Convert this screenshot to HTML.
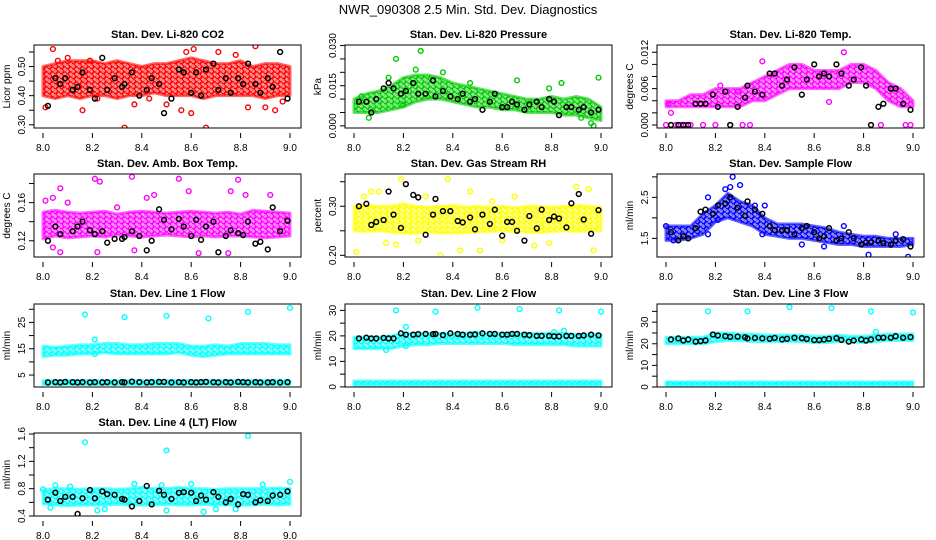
<!DOCTYPE html>
<html><head><meta charset="utf-8"><style>
html,body{margin:0;padding:0;background:#fff;}
svg{display:block;font-family:"Liberation Sans",Arial,sans-serif;}
</style></head><body>
<svg id="root" width="936" height="540" viewBox="0 0 936 540" xmlns="http://www.w3.org/2000/svg">
<rect x="0" y="0" width="936" height="540" fill="#fff"/>
<text x="468" y="14" text-anchor="middle" font-size="13">NWR_090308  2.5 Min. Std. Dev. Diagnostics</text>
</svg>
<script>
// shared time arrays
const tBand = [8.00,8.05,8.10,8.15,8.20,8.25,8.30,8.35,8.40,8.45,8.50,8.55,8.60,8.65,8.70,8.75,8.80,8.85,8.90,8.95,9.00];
const tBlack = [8.02,8.05,8.07,8.09,8.12,8.14,8.16,8.19,8.21,8.24,8.26,8.29,8.32,8.33,8.36,8.39,8.42,8.44,8.47,8.49,8.52,8.55,8.57,8.60,8.62,8.64,8.66,8.69,8.71,8.74,8.76,8.79,8.81,8.83,8.86,8.88,8.91,8.93,8.96,8.99];
const xTicks = [8.0,8.2,8.4,8.6,8.8,9.0];

// P1 CO2
const co2Lo = [0.40,0.39,0.40,0.39,0.40,0.40,0.39,0.40,0.40,0.41,0.40,0.40,0.40,0.39,0.40,0.40,0.40,0.40,0.39,0.40,0.40];
const co2Hi = [0.50,0.51,0.52,0.52,0.52,0.51,0.52,0.51,0.50,0.51,0.51,0.52,0.53,0.52,0.51,0.51,0.52,0.50,0.51,0.51,0.50];
const co2OutT = [8.01,8.04,8.06,8.10,8.16,8.19,8.22,8.33,8.37,8.43,8.56,8.58,8.61,8.66,8.71,8.78,8.83,8.86,8.90,8.94,8.97,8.60,8.50];
const co2OutV = [0.36,0.56,0.52,0.53,0.35,0.52,0.39,0.29,0.37,0.39,0.35,0.55,0.56,0.29,0.55,0.54,0.36,0.57,0.36,0.35,0.38,0.34,0.37];
const co2Black = [0.365,0.46,0.44,0.46,0.42,0.43,0.48,0.42,0.39,0.53,0.42,0.46,0.43,0.44,0.48,0.40,0.42,0.46,0.44,0.34,0.39,0.49,0.48,0.41,0.48,0.40,0.49,0.51,0.42,0.46,0.41,0.46,0.44,0.51,0.44,0.41,0.46,0.43,0.55,0.39];

// P2 Pressure
const presLo = [0.005,0.005,0.005,0.006,0.007,0.009,0.010,0.010,0.009,0.008,0.007,0.007,0.006,0.006,0.005,0.005,0.005,0.004,0.004,0.003,0.002];
const presHi = [0.010,0.012,0.013,0.015,0.018,0.019,0.019,0.018,0.016,0.015,0.014,0.013,0.012,0.011,0.010,0.010,0.011,0.010,0.011,0.010,0.007];
const presOutT = [8.17,8.27,8.36,8.14,8.25,8.47,8.66,8.79,8.84,8.99,8.97,8.96,8.92,8.06,8.20,8.03];
const presOutV = [0.025,0.028,0.020,0.018,0.021,0.016,0.017,0.014,0.016,0.018,0.000,0.001,0.003,0.003,0.008,0.011];
const presBlack = [0.009,0.009,0.005,0.010,0.014,0.016,0.014,0.012,0.013,0.016,0.012,0.012,0.017,0.011,0.013,0.011,0.010,0.012,0.009,0.010,0.006,0.009,0.012,0.007,0.007,0.009,0.008,0.006,0.008,0.009,0.007,0.010,0.009,0.004,0.007,0.007,0.006,0.007,0.005,0.006];

// P3 Li-820 Temp
const tempLo = [0.003,0.003,0.003,0.003,0.003,0.003,0.003,0.004,0.004,0.005,0.006,0.006,0.006,0.006,0.006,0.007,0.007,0.006,0.004,0.003,0.003];
const tempHi = [0.004,0.004,0.005,0.005,0.006,0.006,0.006,0.007,0.008,0.009,0.010,0.010,0.009,0.009,0.009,0.010,0.010,0.009,0.007,0.006,0.004];
const tempOutT = [8.00,8.02,8.04,8.06,8.08,8.10,8.15,8.20,8.26,8.31,8.34,8.87,8.97,8.99,8.22,8.29,8.66,8.72,8.39,8.01,8.02];
const tempOutV = [0,0,0,0,0,0,0,0,0,0,0,0,0,0,0.0065,0.0055,0.0038,0.012,0.0105,0.0035,0.002];
const tempBlack = [0.000,0.000,0.000,0.000,0.0035,0.0035,0.0035,0.0050,0.003,0.0055,0.000,0.003,0.0045,0.0065,0.0055,0.005,0.0085,0.0085,0.0065,0.0075,0.0095,0.005,0.0075,0.010,0.008,0.0085,0.008,0.010,0.0085,0.0065,0.0075,0.0095,0.0065,0.000,0.003,0.0035,0.0060,0.006,0.0035,0.0025];

// P4 Amb Box Temp
const ambLo = [0.122,0.125,0.123,0.124,0.125,0.124,0.126,0.125,0.124,0.125,0.126,0.125,0.124,0.125,0.124,0.125,0.125,0.124,0.123,0.124,0.125];
const ambHi = [0.150,0.152,0.150,0.149,0.150,0.151,0.148,0.150,0.151,0.150,0.149,0.150,0.151,0.150,0.149,0.150,0.148,0.152,0.151,0.150,0.149];
const ambOutT = [8.04,8.07,8.10,8.21,8.23,8.36,8.42,8.55,8.59,8.76,8.79,8.82,8.92,8.22,8.07,8.45,8.63,8.75,8.04,8.37,8.01,8.30];
const ambOutV = [0.165,0.175,0.160,0.185,0.182,0.187,0.165,0.185,0.172,0.172,0.184,0.168,0.168,0.108,0.108,0.168,0.107,0.107,0.113,0.110,0.162,0.155];
const ambBlack = [0.12,0.135,0.127,0.10,0.13,0.135,0.140,0.131,0.127,0.130,0.118,0.122,0.122,0.124,0.13,0.125,0.11,0.12,0.153,0.142,0.132,0.143,0.135,0.125,0.142,0.121,0.135,0.140,0.108,0.125,0.131,0.128,0.126,0.140,0.117,0.119,0.111,0.155,0.13,0.141];

// P5 Gas Stream RH
const rhLo = [0.250,0.248,0.250,0.247,0.245,0.245,0.248,0.245,0.245,0.246,0.247,0.248,0.250,0.248,0.247,0.246,0.248,0.250,0.248,0.250,0.250];
const rhHi = [0.300,0.302,0.300,0.300,0.305,0.300,0.298,0.300,0.302,0.298,0.300,0.298,0.300,0.297,0.300,0.300,0.298,0.300,0.302,0.300,0.298];
const rhOutT = [8.01,8.04,8.07,8.19,8.26,8.35,8.38,8.43,8.51,8.65,8.90,8.95,8.97,8.79,8.13,8.17,8.60,8.47,8.29,8.73,8.10,8.56];
const rhOutV = [0.207,0.32,0.33,0.355,0.23,0.20,0.355,0.21,0.21,0.32,0.34,0.335,0.21,0.225,0.225,0.222,0.23,0.33,0.32,0.22,0.33,0.31];
const rhBlack = [0.30,0.305,0.262,0.268,0.272,0.33,0.283,0.256,0.345,0.323,0.318,0.242,0.283,0.315,0.29,0.29,0.270,0.267,0.277,0.253,0.283,0.264,0.293,0.24,0.268,0.268,0.25,0.23,0.28,0.255,0.293,0.272,0.279,0.275,0.257,0.306,0.325,0.273,0.244,0.292];

// P6 Sample Flow
const sfLo = [1.45,1.45,1.50,1.60,1.90,2.00,1.90,1.80,1.60,1.55,1.50,1.50,1.45,1.40,1.35,1.35,1.30,1.30,1.30,1.30,1.35];
const sfHi = [1.80,1.80,1.80,2.10,2.30,2.60,2.40,2.30,2.00,1.85,1.85,1.85,1.80,1.75,1.65,1.60,1.55,1.55,1.50,1.50,1.50];
const sfOutT = [8.00,8.17,8.27,8.24,8.30,8.36,8.40,8.39,8.17,8.72,8.82,8.98,8.93,8.64,8.03,8.55,8.26,8.21];
const sfOutV = [1.80,2.50,3.00,2.70,2.80,2.30,2.30,1.60,1.60,1.80,1.10,1.05,1.60,1.30,1.45,1.35,2.75,1.95];
const sfBlack = [1.65,1.45,1.55,1.5,1.75,2.15,2.2,2.1,2.3,2.35,2.5,2.25,2.05,2.4,2.2,2.1,1.8,1.7,1.7,1.7,1.6,1.75,1.8,1.65,1.5,1.55,1.75,1.45,1.5,1.65,1.5,1.35,1.4,1.4,1.45,1.38,1.35,1.45,1.48,1.3];

// P7 Line 1 Flow
const l1Lo = [12,12.5,12.5,13,13,13.5,13,13,13,13,13,13.5,12.5,12,12.5,13,13,13,13,13,13];
const l1Hi = [16,15.5,16,16.5,16.5,17,17,16.5,16.5,17,17,17,16,16,16.5,16,17,17,17,16.5,16.5];
const l1LowLo = [1.4,1.4,1.4,1.4,1.4,1.4,1.4,1.4,1.4,1.4,1.4,1.4,1.4,1.4,1.4,1.4,1.4,1.4,1.4,1.4,1.4];
const l1LowHi = [2.9,2.9,2.9,2.9,2.9,2.9,2.9,2.9,2.9,2.9,2.9,2.9,2.9,2.9,2.9,2.9,2.9,2.9,2.9,2.9,2.9];
const l1OutT = [8.17,8.33,8.50,8.67,8.83,9.00,8.21,8.21];
const l1OutV = [28,27,27.5,26.5,29,30.5,18.5,13];
const l1Black = [2.2,2.3,2.2,2.4,2.3,2.2,2.3,2.2,2.3,2.2,2.3,2.2,2.3,2.2,2.5,2.3,2.2,2.3,2.4,2.4,2.2,2.3,2.2,2.3,2.2,2.3,2.4,2.3,2.2,2.3,2.2,2.4,2.3,2.2,2.3,2.2,2.2,2.3,2.2,2.3];

// P8 Line 2 Flow
const l2Lo = [15,15,15,15,16,16.5,16.5,17,17,17,17,17,17,16.5,16.5,16.5,16.5,16.5,16,16,16];
const l2Hi = [19.5,19.5,19.5,20,21,21,21,21,21,21,21.5,21,21,21,21,21,21,21,20.5,20.5,20.5];
const l2LowLo = [0.6,0.6,0.6,0.6,0.6,0.6,0.6,0.6,0.6,0.6,0.6,0.6,0.6,0.6,0.6,0.6,0.6,0.6,0.6,0.6,0.6];
const l2LowHi = [2.3,2.3,2.3,2.3,2.3,2.3,2.3,2.3,2.3,2.3,2.3,2.3,2.3,2.3,2.3,2.3,2.3,2.3,2.3,2.3,2.3];
const l2OutT = [8.17,8.33,8.50,8.67,8.83,9.00,8.21,8.81,8.85,8.21,8.13];
const l2OutV = [30,29.5,31,30.5,30,29.5,23.5,21.5,22,16,14.5];
const l2Black = [19,19.3,19,19,19.2,19,19,21,20.5,20.5,20.7,20.8,20.7,20.8,20.3,21,20.8,20.5,20.5,20.6,21,20.8,20.8,20.5,20.5,20.8,20.8,20.5,20.3,20,20,20,19.8,19.8,20,20,20,20.2,20.5,20.2];

// P9 Line 3 Flow
const l3Lo = [20,20,20,20,21,21.5,21.5,21,21,21,21,21,20.5,20.5,21,21,20.5,21,21.5,21.5,21.5];
const l3Hi = [23,23,23,23,25,25,24.5,24.5,24,24,24,24,23.5,23.5,24,23.5,23.5,24,24.5,24.5,24.5];
const l3LowLo = [0.7,0.7,0.7,0.7,0.7,0.7,0.7,0.7,0.7,0.7,0.7,0.7,0.7,0.7,0.7,0.7,0.7,0.7,0.7,0.7,0.7];
const l3LowHi = [2.4,2.4,2.4,2.4,2.4,2.4,2.4,2.4,2.4,2.4,2.4,2.4,2.4,2.4,2.4,2.4,2.4,2.4,2.4,2.4,2.4];
const l3OutT = [8.17,8.33,8.50,8.67,8.83,9.00,8.85];
const l3OutV = [35,35,37,36.5,35,34.5,25.5];
const l3Black = [22,22.5,21.5,22,21,21.2,21.5,24.3,23.8,23.5,23.2,23.3,23,22.5,22.7,22.5,22.3,22.7,22,22.3,22.8,22.6,22.2,21.7,21.7,22,22.3,22.6,21.8,21,21.5,22,21.5,22,22.8,22.8,22.8,23.5,22.8,23.1];

// P10 Line 4 (LT) Flow
const l4Lo = [0.58,0.56,0.55,0.56,0.56,0.56,0.57,0.56,0.56,0.56,0.57,0.56,0.56,0.57,0.56,0.56,0.56,0.56,0.57,0.56,0.57];
const l4Hi = [0.78,0.80,0.80,0.79,0.80,0.80,0.79,0.80,0.82,0.80,0.80,0.82,0.80,0.80,0.79,0.80,0.80,0.80,0.80,0.81,0.80];
const l4OutT = [8.17,8.50,8.83,9.00,8.05,8.11,8.03,8.22,8.37,8.50,8.65,8.70,8.78,8.48,8.60,8.89,8.00,8.25];
const l4OutV = [1.48,1.36,1.57,0.90,0.85,0.83,0.52,0.48,0.87,0.48,0.46,0.50,0.50,0.85,0.87,0.86,0.79,0.50];
const l4Black = [0.64,0.74,0.62,0.68,0.68,0.43,0.66,0.78,0.66,0.76,0.72,0.71,0.65,0.64,0.54,0.62,0.84,0.57,0.77,0.71,0.65,0.74,0.75,0.74,0.62,0.70,0.64,0.75,0.68,0.60,0.65,0.57,0.72,0.71,0.60,0.63,0.62,0.70,0.71,0.76];

const NS = "http://www.w3.org/2000/svg";
const root = document.getElementById('root');
function mk(tag, attrs, parent){
  const e = document.createElementNS(NS, tag);
  for (const k in attrs) e.setAttribute(k, attrs[k]);
  (parent||root).appendChild(e);
  return e;
}
const colLeft = [34,345,657], rowTop = [45,174,304,433], W = 267, H = 83;
const defs = mk('defs', {});

const panels = [
 {key:'co2', title:'Stan. Dev. Li-820 CO2', ylab:'Licor ppm', col:0,row:0, ymin:0.289,ymax:0.574, color:'#ff0000',
  ticks:[0.30,0.35,0.40,0.45,0.50,0.55], labels:[0.30,0.40,0.50], dec:2,
  bands:[[co2Lo,co2Hi]], outT:co2OutT, outV:co2OutV, black:co2Black},
 {key:'pressure', title:'Stan. Dev. Li-820 Pressure', ylab:'kPa', col:1,row:0, ymin:-0.0008,ymax:0.0302, color:'#00cc00',
  ticks:[0,0.005,0.010,0.015,0.020,0.025,0.030], labels:[0,0.015,0.030], dec:3,
  bands:[[presLo,presHi]], outT:presOutT, outV:presOutV, black:presBlack},
 {key:'li820-temp', title:'Stan. Dev. Li-820 Temp.', ylab:'degrees C', col:2,row:0, ymin:-0.0005,ymax:0.0132, color:'#ff00ff',
  ticks:[0,0.002,0.004,0.006,0.008,0.010,0.012], labels:[0,0.006,0.012], dec:3,
  bands:[[tempLo,tempHi]], outT:tempOutT, outV:tempOutV, black:tempBlack},
 {key:'amb-box-temp', title:'Stan. Dev. Amb. Box Temp.', ylab:'degrees C', col:0,row:1, ymin:0.103,ymax:0.190, color:'#ff00ff',
  ticks:[0.12,0.14,0.16,0.18], labels:[0.12,0.16], dec:2,
  bands:[[ambLo,ambHi]], outT:ambOutT, outV:ambOutV, black:ambBlack},
 {key:'gas-stream-rh', title:'Stan. Dev. Gas Stream RH', ylab:'percent', col:1,row:1, ymin:0.1966,ymax:0.3657, color:'#ffff00',
  ticks:[0.20,0.25,0.30,0.35], labels:[0.20,0.30], dec:2,
  bands:[[rhLo,rhHi]], outT:rhOutT, outV:rhOutV, black:rhBlack},
 {key:'sample-flow', title:'Stan. Dev. Sample Flow', ylab:'ml/min', col:2,row:1, ymin:1.045,ymax:3.07, color:'#0000ff',
  ticks:[1.5,2.0,2.5,3.0], labels:[1.5,2.5], dec:1,
  bands:[[sfLo,sfHi]], outT:sfOutT, outV:sfOutV, black:sfBlack},
 {key:'line1-flow', title:'Stan. Dev. Line 1 Flow', ylab:'ml/min', col:0,row:2, ymin:0.46,ymax:32.0, color:'#00ffff',
  ticks:[5,10,15,20,25,30], labels:[5,15,25], dec:0,
  bands:[[l1Lo,l1Hi],[l1LowLo,l1LowHi]], outT:l1OutT, outV:l1OutV, black:l1Black},
 {key:'line2-flow', title:'Stan. Dev. Line 2 Flow', ylab:'ml/min', col:1,row:2, ymin:-0.04,ymax:32.5, color:'#00ffff',
  ticks:[0,5,10,15,20,25,30], labels:[0,10,20,30], dec:0,
  bands:[[l2Lo,l2Hi],[l2LowLo,l2LowHi]], outT:l2OutT, outV:l2OutV, black:l2Black},
 {key:'line3-flow', title:'Stan. Dev. Line 3 Flow', ylab:'ml/min', col:2,row:2, ymin:0,ymax:38.4, color:'#00ffff',
  ticks:[0,5,10,15,20,25,30,35], labels:[0,10,20,30], dec:0,
  bands:[[l3Lo,l3Hi],[l3LowLo,l3LowHi]], outT:l3OutT, outV:l3OutV, black:l3Black},
 {key:'line4-flow', title:'Stan. Dev. Line 4 (LT) Flow', ylab:'ml/min', col:0,row:3, ymin:0.4,ymax:1.615, color:'#00ffff',
  ticks:[0.4,0.6,0.8,1.0,1.2,1.4,1.6], labels:[0.4,0.8,1.2,1.6], dec:1,
  bands:[[l4Lo,l4Hi]], outT:l4OutT, outV:l4OutV, black:l4Black}
];

panels.forEach(p => {
  const L = colLeft[p.col], T = rowTop[p.row];
  const xs = t => L + 9 + (t - 8.0) * 247;
  const ys = v => T + H - (v - p.ymin) / (p.ymax - p.ymin) * H;
  // speckle pattern (hollow circles) for the dense cloud
  const patId = 'pat-' + p.key;
  const pat = mk('pattern', {id: patId, patternUnits: 'userSpaceOnUse', width: 6, height: 5}, defs);
  mk('circle', {cx: 1.5, cy: 1.5, r: 2.2, fill: 'none', stroke: p.color, 'stroke-width': 1.3}, pat);
  mk('circle', {cx: 4.5, cy: 4, r: 2.2, fill: 'none', stroke: p.color, 'stroke-width': 1.3}, pat);
  const g = mk('g', {});
  
  
  const clipId = 'clip-' + p.key;
  const cp = mk('clipPath', {id: clipId}, g);
  mk('rect', {x:L, y:T, width:W, height:H}, cp);
  const t = mk('text', {x:L + W/2, y:T - 7, 'text-anchor':'middle', 'font-size':'11', 'font-weight':'bold'}, g);
  t.textContent = p.title;
  
  
  const yl = mk('text', {x:0, y:0, 'text-anchor':'middle', 'font-size':'10', transform:`translate(${L-24},${T+H/2}) rotate(-90)`}, g);
  yl.textContent = p.ylab;
  
  
  const marks = mk('g', {'clip-path': `url(#${clipId})`}, g);
  
  
  p.bands.forEach((b, bi) => {
    const lo = b[0], hi = b[1];
    let pts = [];
    for (let i = 0; i < tBand.length; i++) pts.push(xs(tBand[i]) + ',' + ys(hi[i]));
    for (let i = tBand.length - 1; i >= 0; i--) pts.push(xs(tBand[i]) + ',' + ys(lo[i]));
    const under = mk('polygon', {points: pts.join(' '), fill: p.color, 'fill-opacity': 0.45, stroke: p.color, 'stroke-opacity': 0.6, 'stroke-width': 3, 'stroke-linejoin':'round'}, marks);
    
    
    const poly = mk('polygon', {points: pts.join(' '), fill: `url(#${patId})`, stroke: 'none'}, marks);
    
    
  });
  for (let i = 0; i < p.outT.length; i++) {
    const c = mk('circle', {cx: xs(p.outT[i]), cy: ys(p.outV[i]), r: 2.4, fill: 'none', stroke: p.color, 'stroke-width': 1.4}, marks);
    
    
  }
  for (let i = 0; i < p.black.length; i++) {
    const c = mk('circle', {cx: xs(tBlack[i]), cy: ys(p.black[i]), r: 2.4, fill: 'none', stroke: '#000', 'stroke-width': 1.5}, marks);
    
    
  }
  const box = mk('rect', {x:L, y:T, width:W, height:H, fill:'none', stroke:'#000', 'stroke-width':1}, g);
  
  
  xTicks.forEach(v => {
    mk('line', {x1: xs(v), x2: xs(v), y1: T+H+5, y2: T+H+10, stroke:'#000', 'stroke-width':1}, g);
    const tl = mk('text', {x: xs(v), y: T+H+23, 'text-anchor':'middle', 'font-size':'10'}, g);
    tl.textContent = v.toFixed(1);
    
    
  });
  p.ticks.forEach(v => {
    mk('line', {x1: L-5, x2: L, y1: ys(v), y2: ys(v), stroke:'#000', 'stroke-width':1}, g);
  });
  p.labels.forEach(v => {
    const tl = mk('text', {x:0, y:0, 'text-anchor':'middle', 'font-size':'10', transform:`translate(${L-9},${ys(v)}) rotate(-90)`}, g);
    tl.textContent = v.toFixed(p.dec);
    
    
  });
});
</script>
</body></html>
